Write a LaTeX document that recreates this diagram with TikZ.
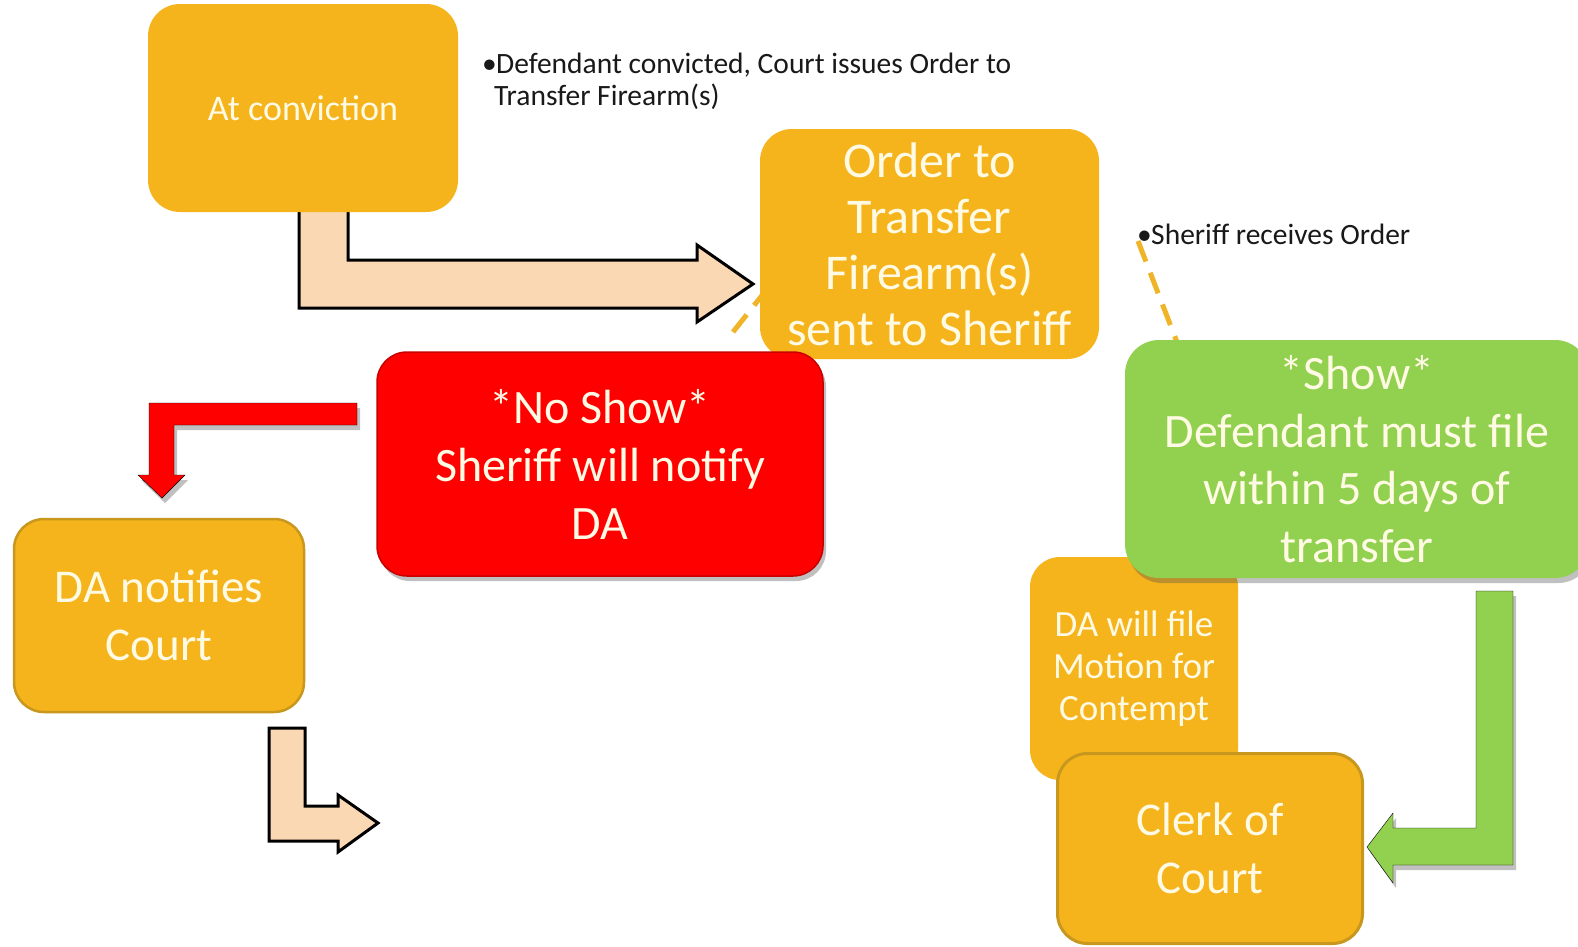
\documentclass[tikz,border=0pt]{standalone}
\usepackage{fontspec}
\setmainfont{Carlito}
\usetikzlibrary{shadows}
\definecolor{gold}{RGB}{245,180,28}
\definecolor{goldedge}{RGB}{200,152,30}
\definecolor{peach}{RGB}{250,216,180}
\definecolor{redbox}{RGB}{255,0,0}
\definecolor{rededge}{RGB}{200,0,0}
\definecolor{greenbox}{RGB}{146,208,80}
\definecolor{dashcol}{RGB}{240,180,40}
\definecolor{cream}{RGB}{255,250,228}
\definecolor{ink}{RGB}{25,25,25}
\begin{document}
\begin{tikzpicture}[x=1pt,y=-1pt,
  box/.style={fill=gold, rounded corners=32pt, inner sep=0pt, align=center, text=cream},
  edged/.style={draw=goldedge, line width=2.5pt},
  shad/.style={drop shadow={shadow xshift=3pt, shadow yshift=-5pt, opacity=0.35, fill=black!70}},
  bullettext/.style={anchor=west, align=left, inner sep=0pt, text=ink, font=\fontsize{29.5}{32}\selectfont},
  dashlink/.style={draw=dashcol, line width=5pt, dash pattern=on 22pt off 12pt},
  peacharrow/.style={fill=peach, draw=black, line width=3pt, line join=miter},
  redarrow/.style={fill=redbox, shad},
  greenarrow/.style={fill=greenbox, shad}
]
\useasboundingbox (0,0) rectangle (1578,946);
\clip (0,0) rectangle (1578,946);
\fill[white] (0,0) rectangle (1578,946);

% dashed links (drawn first, boxes cover their ends)
\coordinate (d1a) at (733,332);
\coordinate (d1b) at (775,279);
\draw[dashlink] (d1a) -- (d1b);
\coordinate (d2a) at (1138,241);
\coordinate (d2b) at (1180,350);
\draw[dashlink] (d2a) -- (d2b);

% big peach bent arrow
\draw[peacharrow] (299,190) -- (299,308) -- (697,308) -- (697,322) -- (753,284)
  -- (697,245) -- (697,260) -- (348,260) -- (348,190) -- cycle;

% At conviction
\node[box, minimum width=310pt, minimum height=208pt,
  font=\fontsize{36}{42}\selectfont] (conv) at (303,108) {At conviction};

\node[bullettext] (note1) at (482,81)
  {\makebox[14pt][l]{•}Defendant convicted, Court issues Order to\\
   \hspace*{12pt}Transfer Firearm(s)};

% Order box
\node[box, minimum width=339pt, minimum height=230pt,
  font=\fontsize{50}{56}\selectfont] (order) at (929.5,244)
  {Order to\\Transfer\\Firearm(s)\\sent to Sheriff};

\node[bullettext] (note2) at (1137,234.5) {\makebox[14pt][l]{•}Sheriff receives Order};

% red bent arrow
\draw[redarrow] (357,403) -- (149,403) -- (149,475) -- (138,475) -- (162,498)
  -- (185,475) -- (174,475) -- (174,425) -- (357,425) -- cycle;

% No Show
\node[box, fill=redbox, draw=rededge, line width=1.5pt, shad, rounded corners=30pt,
  minimum width=446pt, minimum height=224pt,
  font=\fontsize{48}{58}\selectfont] (noshow) at (600,464)
  {*No Show*\\Sheriff will notify\\DA};

% DA notifies Court
\node[box, edged, rounded corners=30pt, minimum width=290pt, minimum height=193pt,
  font=\fontsize{47}{58}\selectfont] (danot) at (159,615.5) {DA notifies\\Court};

% small peach bent arrow
\draw[peacharrow] (269,728) -- (269,841) -- (338,841) -- (338,852) -- (378,823)
  -- (338,795) -- (338,806) -- (305,806) -- (305,728) -- cycle;

% DA will file
\node[box, rounded corners=30pt, minimum width=208pt, minimum height=223pt,
  font=\fontsize{37}{42}\selectfont] (dafile) at (1134,668.5)
  {DA will file\\Motion for\\Contempt};

% Show box
\node[box, fill=greenbox, shad, rounded corners=34pt, minimum width=464pt, minimum height=238pt,
  font=\fontsize{48}{57.5}\selectfont] (show) at (1357,459)
  {*Show*\\Defendant must file\\within 5 days of\\transfer};

% green bent arrow
\draw[greenarrow] (1476,591) -- (1513,591) -- (1513,865) -- (1393,865) -- (1393,883)
  -- (1367,847) -- (1393,813) -- (1393,828) -- (1476,828) -- cycle;

% Clerk of Court
\node[box, edged, line width=3pt, rounded corners=30pt, minimum width=305pt, minimum height=190pt,
  font=\fontsize{47}{58}\selectfont] (clerk) at (1210,848.5) {Clerk of\\Court};
\end{tikzpicture}
\end{document}
